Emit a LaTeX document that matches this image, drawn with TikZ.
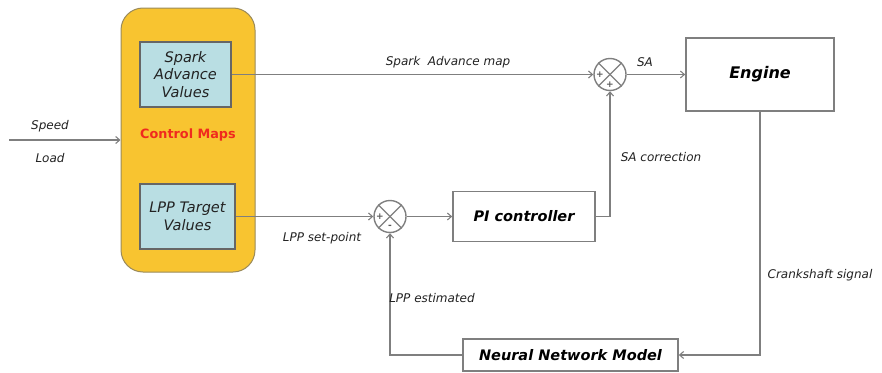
\documentclass[tikz,border=0pt]{standalone}
\usepackage{fontspec}
\setmainfont{DejaVu Sans}
\usetikzlibrary{arrows.meta}
\definecolor{cmyellow}{HTML}{F8C430}
\definecolor{cmborder}{HTML}{9A8A5A}
\definecolor{boxblue}{HTML}{B9DEE3}
\definecolor{linegray}{HTML}{7F7F7F}
\definecolor{txt}{HTML}{222222}
\definecolor{cmred}{HTML}{F02A1E}
\begin{document}
\begin{tikzpicture}[x=1pt,y=-1pt,
  wire/.style={draw=linegray,line width=1.6pt},
  arr/.style={wire,-{Straight Barb[length=4pt,width=7pt,line width=1.1pt]}},
  lbl/.style={text=txt,font=\fontsize{12}{14}\selectfont\itshape,inner sep=0pt},
  mapbox/.style={draw=linegray!80!black,line width=1.4pt,fill=boxblue,text=txt,align=center,inner sep=0pt,
    font=\fontsize{14.5}{17.5}\selectfont\itshape},
  blockbox/.style={draw=linegray,line width=1.6pt,fill=white,text=black,inner sep=0pt,
    font=\fontsize{14.5}{16}\selectfont\bfseries\itshape},
  sumnode/.style={circle,draw=linegray,line width=1.4pt,minimum size=32pt,inner sep=0pt},
  sign/.style={text=linegray!70!black,font=\fontsize{9}{9}\selectfont\bfseries,inner sep=0pt}
]
\useasboundingbox (0,0) rectangle (882,372);
% control maps
\node[draw=cmborder,line width=1pt,fill=cmyellow,rounded corners=22pt,minimum width=134pt,minimum height=264pt,inner sep=0pt] (cm) at (188,140) {};
\node[text=cmred,font=\fontsize{12.8}{14}\selectfont\bfseries,inner sep=0pt] (cmlabel) at (188,135) {Control Maps};
\node[mapbox,minimum width=91pt,minimum height=65pt] (sav) at (185.5,74.5) {Spark\\Advance\\Values};
\node[mapbox,minimum width=95pt,minimum height=65pt] (lpp) at (187.5,216.5) {LPP Target\\Values};
% inputs
\coordinate (in) at (9,140);
\draw[arr] (in) -- (cm.west);
\node[lbl] (speed) at (50,126) {Speed};
\node[lbl] (load) at (50,158) {Load};
% blocks
\node[sumnode] (sum1) at (610,74.5) {};
\node[sumnode] (sum2) at (390,216.5) {};
\node[blockbox,minimum width=148pt,minimum height=73pt,font=\fontsize{16}{18}\selectfont\bfseries\itshape] (engine) at (760,74.5) {Engine};
\node[blockbox,minimum width=142pt,minimum height=50pt] (pi) at (524,216.5) {PI controller};
\node[blockbox,minimum width=215pt,minimum height=32pt] (nn) at (570.5,355) {Neural Network Model};
% sum crosses
\foreach \s in {sum1,sum2}{
  \draw[wire,line width=1.2pt] (\s.north east) -- (\s.south west);
  \draw[wire,line width=1.2pt] (\s.north west) -- (\s.south east);
}
\node[sign] (s1a) at ([xshift=6.5pt]sum1.west) {+};
\node[sign] (s1b) at ([yshift=6.5pt]sum1.south) {+};
\node[sign] (s2a) at ([xshift=6.5pt]sum2.west) {+};
\node[sign] (s2b) at ([yshift=6.5pt]sum2.south) {-};
% connectors
\draw[arr] (sav.east) -- (sum1.west);
\node[lbl] (samap) at (448,62) {Spark\ \ Advance map};
\draw[arr] (sum1.east) -- (engine.west);
\node[lbl] (sa) at (645,62) {SA};
\draw[arr] (pi.east) -| (sum1.south);
\node[lbl] (sacorr) at (661,157) {SA correction};
\draw[arr] (lpp.east) -- (sum2.west);
\node[lbl] (lppsp) at (322,238) {LPP set-point};
\draw[arr] (sum2.east) -- (pi.west);
\draw[arr] (engine.south) |- (nn.east);
\node[lbl] (crank) at (820,275) {Crankshaft signal};
\draw[arr] (nn.west) -| (sum2.south);
\node[lbl] (lppest) at (432,298) {LPP estimated};
\end{tikzpicture}
\end{document}
